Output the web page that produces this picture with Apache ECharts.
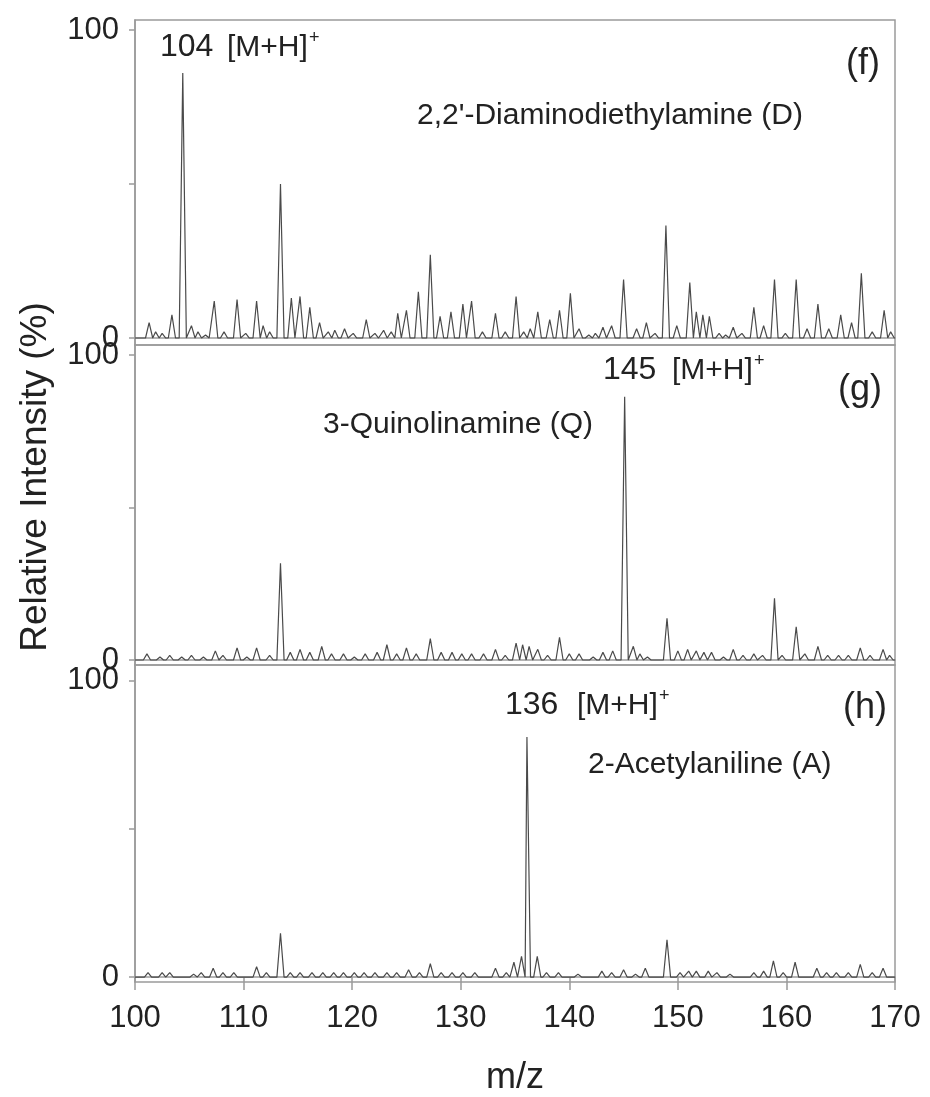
<!DOCTYPE html>
<html>
<head>
<meta charset="utf-8">
<title>Mass spectra</title>
<script src="https://cdn.jsdelivr.net/npm/echarts@6/dist/echarts.min.js"></script>
<style>
  html, body { margin: 0; padding: 0; background: #fff; }
  #main { width: 930px; height: 1097px; }
</style>
</head>
<body>
<div id="main"></div>
<script>
// m/z range and tick labels
const mzRange = [100, 170];
const mzStep = 10;
const yTickValues = [0, 50, 100];
const yLabelValues = [0, 100];

// peaks: [m/z, relative intensity %]
const peaksF = [
  [101.3, 5], [101.9, 2], [102.5, 1.5], [103.4, 7.5], [104.4, 86], [105.2, 4], [105.8, 2],
  [106.5, 1], [107.3, 12], [108.2, 2], [109.4, 12.5], [110.2, 1.5], [111.2, 12], [111.8, 4],
  [112.4, 2], [113.4, 50], [114.4, 13], [115.2, 13.5], [116.1, 10], [117.0, 5], [117.8, 2],
  [118.4, 2.5], [119.3, 3], [120.1, 1.5], [121.3, 6], [122.1, 1.5], [122.9, 2.5], [123.6, 2],
  [124.2, 8], [125.0, 9], [126.1, 15], [127.2, 27], [128.1, 7], [129.1, 8.5], [130.2, 11],
  [131.0, 12], [132.0, 2], [133.2, 8], [134.1, 2], [135.1, 13.5], [135.8, 2], [136.4, 3],
  [137.1, 8.5], [138.2, 6], [139.1, 9], [140.1, 14.5], [140.9, 3], [141.8, 1], [142.4, 1.5],
  [143.1, 3.5], [143.9, 4], [145.0, 19], [146.2, 3], [147.1, 5], [147.9, 1.5], [148.9, 36.5],
  [149.9, 4], [151.1, 18], [151.7, 8.5], [152.3, 7.5], [152.9, 7], [153.8, 1.5], [154.4, 1],
  [155.1, 3.5], [155.9, 1.5], [157.0, 10], [157.9, 4], [158.9, 19], [159.9, 1.5], [160.9, 19],
  [161.9, 3], [162.9, 11], [163.9, 3], [165.0, 7.5], [166.0, 5], [166.9, 21], [167.9, 2],
  [169.0, 9], [169.6, 2]
];

const peaksG = [
  [101.1, 2], [102.3, 1], [103.2, 1.5], [104.3, 1], [105.2, 1.5], [106.3, 1], [107.4, 3],
  [108.1, 1.5], [109.4, 4], [110.3, 1], [111.2, 4], [112.4, 1.5], [113.4, 31.7], [114.3, 2.5],
  [115.2, 3.5], [116.1, 2.5], [117.2, 4.5], [118.1, 2], [119.2, 2], [120.2, 1], [121.2, 2],
  [122.3, 2.5], [123.2, 5], [124.1, 2], [125.0, 4], [125.9, 2], [127.2, 7], [128.2, 2.5],
  [129.2, 2.5], [130.1, 2], [131.0, 2], [132.1, 2], [133.2, 3.5], [134.1, 1.5], [135.1, 5.5],
  [135.7, 5], [136.3, 4.5], [137.1, 3.5], [138.0, 1.5], [139.1, 7.4], [140.0, 2], [140.9, 2],
  [142.2, 1], [143.1, 2.5], [144.0, 3], [145.1, 86.3], [145.9, 4.5], [146.5, 2], [147.2, 1],
  [149.0, 13.7], [150.0, 3], [150.9, 3.5], [151.7, 3], [152.4, 2.5], [153.1, 2.5], [154.2, 1],
  [155.1, 3.5], [156.0, 1.5], [157.0, 2], [157.8, 1.5], [158.9, 20.2], [159.6, 1.5],
  [160.9, 10.9], [161.7, 2], [162.9, 4.5], [163.8, 1.5], [164.8, 1.5], [165.7, 1.5],
  [166.8, 4], [167.7, 1.5], [168.9, 3.5], [169.5, 1.5]
];

const peaksH = [
  [101.2, 1.5], [102.5, 1.5], [103.2, 1.5], [105.4, 1], [106.1, 1.5], [107.2, 3], [108.1, 1.5],
  [109.1, 1.5], [111.2, 3.5], [112.1, 1.5], [113.4, 14.8], [114.3, 1.5], [115.2, 1.5],
  [116.3, 1.5], [117.3, 1.5], [118.3, 1.5], [119.2, 1.5], [120.2, 1.5], [121.1, 1.5],
  [122.1, 1.5], [123.2, 1.5], [124.1, 1.5], [125.2, 2.5], [126.2, 1.5], [127.2, 4.5],
  [128.2, 1.5], [129.2, 1.5], [130.2, 1.5], [131.3, 1.5], [133.2, 3], [134.2, 1.5],
  [134.9, 5], [135.6, 7], [136.1, 81], [137.05, 7], [137.9, 1.5], [139.0, 1.5], [140.8, 1],
  [143.0, 2], [143.9, 1.5], [145.0, 2.5], [146.1, 1], [147.0, 3], [149.0, 12.6], [150.2, 1.5],
  [151.0, 2], [151.7, 2], [152.8, 2], [153.6, 1.5], [154.8, 1], [157.0, 1.5], [157.9, 2],
  [158.8, 5.5], [159.7, 1.5], [160.8, 5], [162.8, 3], [163.7, 1.5], [164.6, 1.5],
  [165.7, 1.5], [166.8, 4.3], [167.9, 1.5], [168.9, 3]
];

const font = 'Liberation Sans, Arial, Helvetica, sans-serif';
const grey = '#9a9a9a';
const ink = '#222';

// turn a peak list into a line profile (each peak is a narrow spike on the baseline)
function toProfile(peaks) {
  const w = 0.33;
  let pts = [[mzRange[0], 0]];
  let lastX = mzRange[0];
  peaks.forEach(([mz, h]) => {
    let left = Math.max(mz - w, lastX);
    pts.push([left, 0], [mz, h], [mz + w, 0]);
    lastX = mz + w;
  });
  pts.push([mzRange[1], 0]);
  return pts;
}

// panel boxes and y extents (0 / 100 placed like the picture)
const panels = [
  { top: 20, height: 325, yMin: -2.27, yMax: 103.25, peaks: peaksF },
  { top: 345, height: 320, yMin: -1.64, yMax: 103.3, peaks: peaksG },
  { top: 665, height: 323, yMin: -1.66, yMax: 105.3, peaks: peaksH }
];

let myChart = echarts.init(document.getElementById('main'), null, { renderer: 'canvas' });

let option = {
  animation: false,
  backgroundColor: '#fff',
  grid: panels.map(p => ({
    left: 135, right: 35, top: p.top, height: p.height,
    show: true, borderColor: grey, borderWidth: 1.5, backgroundColor: 'transparent'
  })),
  xAxis: panels.map((p, i) => {
    let last = i === panels.length - 1;
    return {
      type: 'value',
      gridIndex: i,
      min: mzRange[0],
      max: mzRange[1],
      interval: mzStep,
      show: true,
      name: last ? 'm/z' : '',
      nameLocation: 'middle',
      nameGap: 78,
      nameTextStyle: { fontFamily: font, fontSize: 36, color: ink },
      axisLine: { show: true, lineStyle: { color: grey, width: 1.5 } },
      axisTick: { show: last, length: 13, lineStyle: { color: grey, width: 1.5 } },
      axisLabel: { show: last, margin: 21, fontFamily: font, fontSize: 31, color: ink },
      splitLine: { show: false }
    };
  }),
  yAxis: panels.map((p, i) => ({
    type: 'value',
    gridIndex: i,
    min: p.yMin,
    max: p.yMax,
    axisLine: { show: true, lineStyle: { color: grey, width: 1.5 } },
    axisTick: { show: true, length: 6, customValues: yTickValues, lineStyle: { color: grey, width: 1.5 } },
    axisLabel: { show: true, margin: 16, customValues: yLabelValues, fontFamily: font, fontSize: 31, color: ink },
    splitLine: { show: false }
  })),
  series: panels.map((p, i) => ({
    type: 'line',
    xAxisIndex: i,
    yAxisIndex: i,
    showSymbol: false,
    symbol: 'none',
    lineStyle: { color: '#4a4a4a', width: 1.2 },
    data: toProfile(p.peaks)
  })),
  graphic: [
    txt('104', 160, 47, 32),
    txt('[M+H]', 227, 48, 30),
    txt('+', 309, 38, 18),
    txt("2,2'-Diaminodiethylamine (D)", 417, 116, 30),
    txt('(f)', 880, 64, 36, 'right'),

    txt('145', 603, 370, 32),
    txt('[M+H]', 672, 371, 30),
    txt('+', 754, 361, 18),
    txt('(g)', 882, 390, 36, 'right'),
    txt('3-Quinolinamine (Q)', 323, 425, 30),

    txt('136', 505, 705, 32),
    txt('[M+H]', 577, 706, 30),
    txt('+', 659, 696, 18),
    txt('(h)', 887, 708, 36, 'right'),
    txt('2-Acetylaniline (A)', 588, 765, 30),

    {
      type: 'text',
      x: 36, y: 477,
      rotation: Math.PI / 2,
      style: {
        text: 'Relative Intensity (%)',
        fill: ink, fontFamily: font, fontSize: 37,
        align: 'center', verticalAlign: 'middle'
      }
    }
  ]
};

myChart.setOption(option);

/**
 * annotation text placed in pixels
 */
function txt(text, x, y, size, align) {
  return {
    type: 'text',
    x: x, y: y,
    style: {
      text: text, fill: ink, fontFamily: font, fontSize: size,
      align: align || 'left', verticalAlign: 'middle'
    }
  };
}
</script>
</body>
</html>
